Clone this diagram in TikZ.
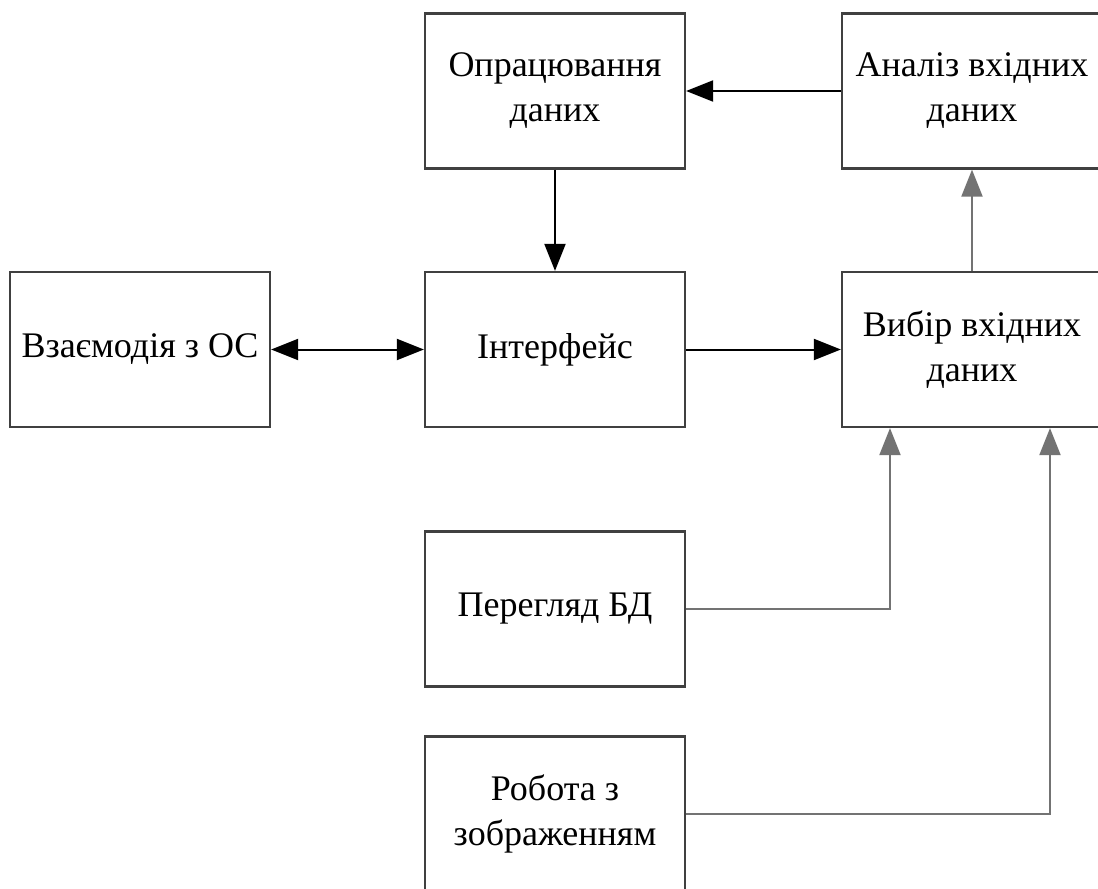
\documentclass[tikz,border=0pt]{standalone}
\usepackage{fontspec}
\setmainfont{Liberation Serif}
\newfontfamily\boxfont{Liberation Serif}
\usetikzlibrary{arrows.meta}
\begin{document}
\begin{tikzpicture}[x=1pt,y=-1pt,
  block/.style={draw=black!75,line width=2.2pt,minimum width=260pt,minimum height=155pt,
    align=center,inner sep=0pt,font=\boxfont\fontsize{36}{45}\selectfont},
  link/.style={line width=2pt,draw=black,-{Triangle[length=27pt,width=21pt]}},
  softlink/.style={link,draw=black!55},
  both/.style={link,{Triangle[length=27pt,width=21pt]}-{Triangle[length=27pt,width=21pt]}}]
\useasboundingbox (0,0) rectangle (1098,889);
\node[block] (proc) at (555,91) {Опрацювання\\даних};
\node[block] (anal) at (972,91) {Аналіз вхідних\\даних};
\node[block] (os)   at (140,349.5) {Взаємодія з ОС};
\node[block] (ui)   at (555,349.5) {Інтерфейс};
\node[block] (sel)  at (972,349.5) {Вибір вхідних\\даних};
\node[block] (db)   at (555,609) {Перегляд БД};
\node[block] (img)  at (555,814) {Робота з\\зображенням};
\draw[link] (anal.west) -- (proc.east);
\draw[link] (proc.south) -- (ui.north);
\draw[both] (os.east) -- (ui.west);
\draw[link] (ui.east) -- (sel.west);
\draw[softlink] (sel.north) -- (anal.south);
\draw[softlink] (db.east) -| ([xshift=-82pt]sel.south);
\draw[softlink] (img.east) -| ([xshift=78pt]sel.south);
\end{tikzpicture}
\end{document}
